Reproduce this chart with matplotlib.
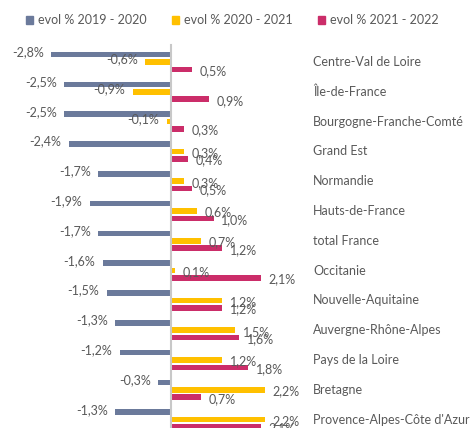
import matplotlib
matplotlib.use("Agg")
import matplotlib.pyplot as plt
from matplotlib.patches import Patch

regions = ["Centre-Val de Loire", "Île-de-France", "Bourgogne-Franche-Comté", "Grand Est",
           "Normandie", "Hauts-de-France", "total France", "Occitanie", "Nouvelle-Aquitaine",
           "Auvergne-Rhône-Alpes", "Pays de la Loire", "Bretagne", "Provence-Alpes-Côte d'Azur"]
evol_19_20 = [-2.8, -2.5, -2.5, -2.4, -1.7, -1.9, -1.7, -1.6, -1.5, -1.3, -1.2, -0.3, -1.3]
evol_20_21 = [-0.6, -0.9, -0.1, 0.3, 0.3, 0.6, 0.7, 0.1, 1.2, 1.5, 1.2, 2.2, 2.2]
evol_21_22 = [0.5, 0.9, 0.3, 0.4, 0.5, 1.0, 1.2, 2.1, 1.2, 1.6, 1.8, 0.7, 2.1]
series_names = ["evol % 2019 - 2020", "evol % 2020 - 2021", "evol % 2021 - 2022"]

colors = ["#6B7A9B", "#FFC000", "#CB2D69"]
TXT = "#595959"
plt.rcParams["font.family"] = ["Lato", "DejaVu Sans"]

fig = plt.figure(figsize=(4.74, 4.28), dpi=100)
ax = fig.add_axes([0, 0, 1, 1])
ax.set_xlim(-171 / 42.7, (474 - 171) / 42.7)
ax.set_ylim((428 - 62) / 29.8, -62 / 29.8)
ax.axis("off")

offsets = [-0.25, 0.0, 0.25]
bh = 0.19
for k, vals in enumerate([evol_19_20, evol_20_21, evol_21_22]):
    for i, v in enumerate(vals):
        y = i + offsets[k]
        ax.barh(y, v, height=bh, color=colors[k], zorder=2)
        lab = f"{v:.1f}%".replace(".", ",")
        if v < 0:
            ax.text(v - 0.18, y - 0.08, lab, ha="right", va="center", fontsize=9, color=TXT)
        else:
            ax.text(v + 0.18, y + 0.05, lab, ha="left", va="center", fontsize=9, color=TXT)

ax.plot([0, 0], [-0.57, 13], color="#C8C8C8", lw=1.5, zorder=3)

for i, r in enumerate(regions):
    ax.text((313 - 171) / 42.7, i, r, ha="left", va="center", fontsize=9, color=TXT)

handles = [Patch(color=c) for c in colors]
fig.legend(handles, series_names, loc="center", bbox_to_anchor=(0.49, 0.953), ncol=3,
           frameon=False, fontsize=9, labelcolor=TXT, handlelength=0.6, handleheight=0.6,
           handletextpad=0.4, columnspacing=2.0)

fig.savefig("out.png", dpi=100)
